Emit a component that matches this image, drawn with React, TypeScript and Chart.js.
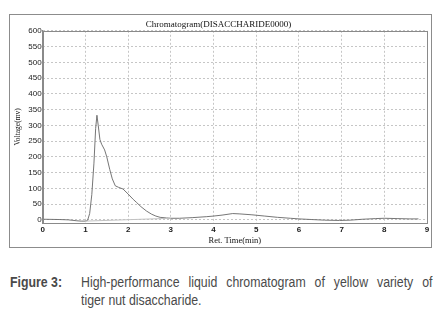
import React, { useEffect, useRef } from 'react';
import { Chart, registerables } from 'chart.js';

Chart.register(...registerables);

// Retention time (min) and detector voltage (mV)
const TIME = [
  0.0, 0.2, 0.4, 0.6, 0.8, 0.9, 1.0, 1.05, 1.1, 1.15, 1.2, 1.24, 1.27, 1.3, 1.34, 1.38, 1.45, 1.5,
  1.57, 1.63, 1.7, 1.78, 1.88, 2.0, 2.12, 2.2, 2.3, 2.43, 2.55, 2.65, 2.75, 2.9, 3.0, 3.2, 3.5,
  3.83, 4.0, 4.2, 4.45, 4.6, 4.9, 5.2, 5.5, 5.8, 6.0, 6.3, 6.6, 6.95, 7.2, 7.5, 7.8, 8.0, 8.3,
  8.6, 8.8,
];
const VOLTAGE = [
  2, 1.5, 1, 0, -3, -4, -4, -2, 20, 80, 180, 290, 332, 300, 255, 240, 222, 200,
  160, 130, 108, 103, 98, 82, 65, 55, 42, 28, 18, 12, 8, 6, 5, 5, 7,
  10, 12, 15, 20, 19, 16, 12, 8, 5, 3, 1, -1, -2, -1, 2, 4, 5, 4,
  3, 3,
];
// Integration baseline drawn under the main peak
const BASELINE_TIME = [1.0, 3.0];
const BASELINE_VOLTAGE = [-4, 5];

const X_TICKS = [0, 1, 2, 3, 4, 5, 6, 7, 8, 9];
const Y_TICKS = [0, 50, 100, 150, 200, 250, 300, 350, 400, 450, 500, 550, 600];

const TITLE = 'Chromatogram(DISACCHARIDE0000)';
const X_TITLE = 'Ret. Time(min)';
const Y_TITLE = 'Voltage(mv)';

export default function App() {
  const ref = useRef<HTMLCanvasElement | null>(null);

  useEffect(() => {
    if (!ref.current) return;
    const frame = {
      id: 'frame',
      afterDraw(c: any) {
        const { left, top, right, bottom } = c.chartArea;
        const ctx = c.ctx;
        ctx.save();
        ctx.strokeStyle = '#8a8a8a';
        ctx.lineWidth = 1;
        ctx.setLineDash([]);
        ctx.strokeRect(Math.round(left) + 0.5, Math.round(top) + 0.5, Math.round(right - left), Math.round(bottom - top));
        ctx.restore();
      },
    };
    const chart = new Chart(ref.current, {
      type: 'line',
      data: {
        datasets: [
          {
            data: BASELINE_TIME.map((t, i) => ({ x: t, y: BASELINE_VOLTAGE[i] })),
            borderColor: '#c2c2c2',
            borderWidth: 1,
            pointRadius: 0,
            tension: 0,
          },
          {
            data: TIME.map((t, i) => ({ x: t, y: VOLTAGE[i] })),
            borderColor: '#666666',
            borderWidth: 0.9,
            pointRadius: 0,
            tension: 0,
          },
        ],
      },
      options: {
        animation: false,
        responsive: false,
        layout: { padding: { left: 10, right: 14, top: 14, bottom: 12 } },
        plugins: {
          legend: { display: false },
          tooltip: { enabled: false },
          title: {
            display: true,
            text: TITLE,
            color: '#111',
            font: { family: 'Liberation Serif', size: 9, weight: 'normal', lineHeight: 1.2 },
            padding: { top: 5, bottom: 1 },
          },
        },
        scales: {
          x: {
            type: 'linear',
            min: 0,
            max: 9,
            afterBuildTicks: (s: any) => {
              s.ticks = X_TICKS.map((v) => ({ value: v }));
            },
            afterFit: (s: any) => {
              s.height = 25;
            },
            ticks: {
              color: '#222',
              padding: 2,
              maxRotation: 0,
              autoSkip: false,
              font: { family: 'Liberation Sans', size: 8, weight: 'bold' },
            },
            grid: { color: '#c6c6c6', lineWidth: 1, drawTicks: false },
            border: { display: true, color: '#8a8a8a', width: 1, dash: [2, 2] },
            title: {
              display: true,
              text: X_TITLE,
              color: '#111',
              font: { family: 'Liberation Serif', size: 8.5, lineHeight: 1.2 },
              padding: { top: 0, bottom: 2 },
            },
          },
          y: {
            type: 'linear',
            min: -10,
            max: 600,
            afterBuildTicks: (s: any) => {
              s.ticks = Y_TICKS.map((v) => ({ value: v }));
            },
            afterFit: (s: any) => {
              s.width = 32.7;
            },
            ticks: {
              color: '#222',
              padding: 1,
              autoSkip: false,
              font: { family: 'Liberation Sans', size: 8 },
            },
            grid: { color: '#c6c6c6', lineWidth: 1, drawTicks: false },
            border: { display: true, color: '#8a8a8a', width: 1, dash: [2, 2] },
            title: {
              display: true,
              text: Y_TITLE,
              color: '#111',
              font: { family: 'Liberation Serif', size: 7.5, lineHeight: 1.2 },
              padding: { top: 3.5, bottom: 0 },
            },
          },
        },
      },
      plugins: [frame],
    } as any);
    return () => chart.destroy();
  }, []);

  const captionFont = '"Liberation Sans", Arial, sans-serif';
  const squeeze = 0.88;

  return (
    <div style={{ position: 'absolute', left: 0, top: 0, width: 441, height: 319, background: '#fff', overflow: 'hidden' }}>
      <div
        style={{
          position: 'absolute',
          left: 9,
          top: 14,
          width: 423,
          height: 234,
          border: '1px solid #8c8c8c',
          boxSizing: 'border-box',
        }}
      />
      <canvas ref={ref} width={441} height={260} style={{ position: 'absolute', left: 0, top: 0, width: 441, height: 260 }} />
      <div
        style={{
          position: 'absolute',
          left: 10,
          top: 274.3,
          fontFamily: captionFont,
          fontSize: 14,
          lineHeight: '17.7px',
          fontWeight: 'bold',
          color: '#4a4a4a',
          whiteSpace: 'nowrap',
          transform: `scaleX(${squeeze})`,
          transformOrigin: 'left top',
        }}
      >
        Figure 3:
      </div>
      <div
        style={{
          position: 'absolute',
          left: 80.7,
          top: 274.3,
          width: 351.5 / squeeze,
          fontFamily: captionFont,
          fontSize: 14,
          lineHeight: '17.7px',
          color: '#4a4a4a',
          transform: `scaleX(${squeeze})`,
          transformOrigin: 'left top',
        }}
      >
        <div style={{ textAlign: 'justify', textAlignLast: 'justify', whiteSpace: 'nowrap' }}>
          High-performance liquid chromatogram of yellow variety of
        </div>
        <div style={{ whiteSpace: 'nowrap' }}>tiger nut disaccharide.</div>
      </div>
    </div>
  );
}
